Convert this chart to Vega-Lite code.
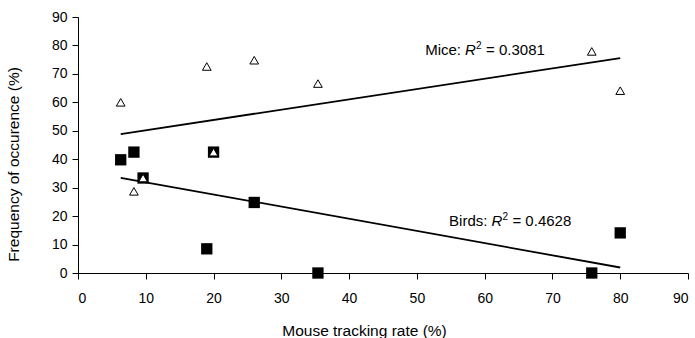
{
  "$schema": "https://vega.github.io/schema/vega-lite/v6.json",
  "autosize": {"type": "none"},
  "width": 610,
  "height": 256,
  "padding": {"left": 78, "top": 17, "right": 7, "bottom": 65},
  "background": "white",
  "config": {
    "view": {"stroke": null},
    "font": "Liberation Sans",
    "axis": {
      "grid": false,
      "domainColor": "black",
      "tickColor": "black",
      "labelColor": "black",
      "titleColor": "black",
      "labelFont": "Liberation Sans",
      "titleFont": "Liberation Sans",
      "labelFontSize": 14,
      "titleFontSize": 15.5,
      "titleFontWeight": "normal",
      "tickSize": 6,
      "domainWidth": 1,
      "tickWidth": 1,
      "labelOverlap": false
    }
  },
  "datasets": {
    "points": [
      {"rate": 6.3, "freq": 60.0, "group": "Mice"},
      {"rate": 8.25, "freq": 28.7, "group": "Mice"},
      {"rate": 9.6, "freq": 33.4, "group": "Mice"},
      {"rate": 19.0, "freq": 72.6, "group": "Mice"},
      {"rate": 20.0, "freq": 42.5, "group": "Mice"},
      {"rate": 26.0, "freq": 74.8, "group": "Mice"},
      {"rate": 35.4, "freq": 66.6, "group": "Mice"},
      {"rate": 75.8, "freq": 77.9, "group": "Mice"},
      {"rate": 80.0, "freq": 64.1, "group": "Mice"},
      {"rate": 6.3, "freq": 39.8, "group": "Birds"},
      {"rate": 8.25, "freq": 42.5, "group": "Birds"},
      {"rate": 9.6, "freq": 33.4, "group": "Birds"},
      {"rate": 19.0, "freq": 8.5, "group": "Birds"},
      {"rate": 20.0, "freq": 42.5, "group": "Birds"},
      {"rate": 26.0, "freq": 24.8, "group": "Birds"},
      {"rate": 35.4, "freq": 0.0, "group": "Birds"},
      {"rate": 75.8, "freq": 0.0, "group": "Birds"},
      {"rate": 80.0, "freq": 14.1, "group": "Birds"}
    ],
    "labels": [
      {"rate": 57.1, "freq": 76.8, "prefix": "Mice:", "value": "= 0.3081"},
      {"rate": 61.0, "freq": 16.6, "prefix": "Birds:", "value": "= 0.4628"}
    ]
  },
  "encoding": {
    "x": {
      "field": "rate", "type": "quantitative",
      "scale": {"domain": [0, 90], "nice": false, "zero": true},
      "axis": {"values": [0, 10, 20, 30, 40, 50, 60, 70, 80, 90], "labelPadding": 12, "titlePadding": 18, "titleX": 286, "titleAlign": "center", "title": "Mouse tracking rate (%)"}
    },
    "y": {
      "field": "freq", "type": "quantitative",
      "scale": {"domain": [0, 90], "nice": false, "zero": true},
      "axis": {"values": [0, 10, 20, 30, 40, 50, 60, 70, 80, 90], "tickCount": 10, "labelOverlap": false, "labelPadding": 5, "titlePadding": 30, "titleY": 147, "titleAlign": "center", "title": "Frequency of occurence (%)"}
    }
  },
  "layer": [
    {
      "data": {"name": "points"},
      "transform": [
        {"regression": "freq", "on": "rate", "groupby": ["group"], "method": "linear"}
      ],
      "mark": {"type": "line", "color": "black", "strokeWidth": 1.8},
      "encoding": {
        "detail": {"field": "group"}
      }
    },
    {
      "data": {"name": "points"},
      "transform": [{"filter": "datum.group === 'Birds'"}],
      "mark": {"type": "point", "shape": "square", "filled": true, "color": "black", "size": 128, "opacity": 1}
    },
    {
      "data": {"name": "points"},
      "transform": [{"filter": "datum.group === 'Mice'"}],
      "mark": {"type": "point", "shape": "triangle-up", "filled": true, "fill": "white", "stroke": "black", "strokeWidth": 1, "size": 76, "opacity": 1}
    },
    {
      "data": {"name": "labels"},
      "mark": {"type": "text", "align": "right", "baseline": "alphabetic", "fontSize": 15, "dx": -4, "color": "black"},
      "encoding": {
        "text": {"field": "prefix"}
      }
    },
    {
      "data": {"name": "labels"},
      "mark": {"type": "text", "align": "left", "baseline": "alphabetic", "fontSize": 15, "fontStyle": "italic", "text": "R", "color": "black"}
    },
    {
      "data": {"name": "labels"},
      "mark": {"type": "text", "align": "left", "baseline": "alphabetic", "fontSize": 10, "dx": 11, "dy": -6, "text": "2", "color": "black"}
    },
    {
      "data": {"name": "labels"},
      "mark": {"type": "text", "align": "left", "baseline": "alphabetic", "fontSize": 15, "dx": 21, "color": "black"},
      "encoding": {
        "text": {"field": "value"}
      }
    }
  ]
}
